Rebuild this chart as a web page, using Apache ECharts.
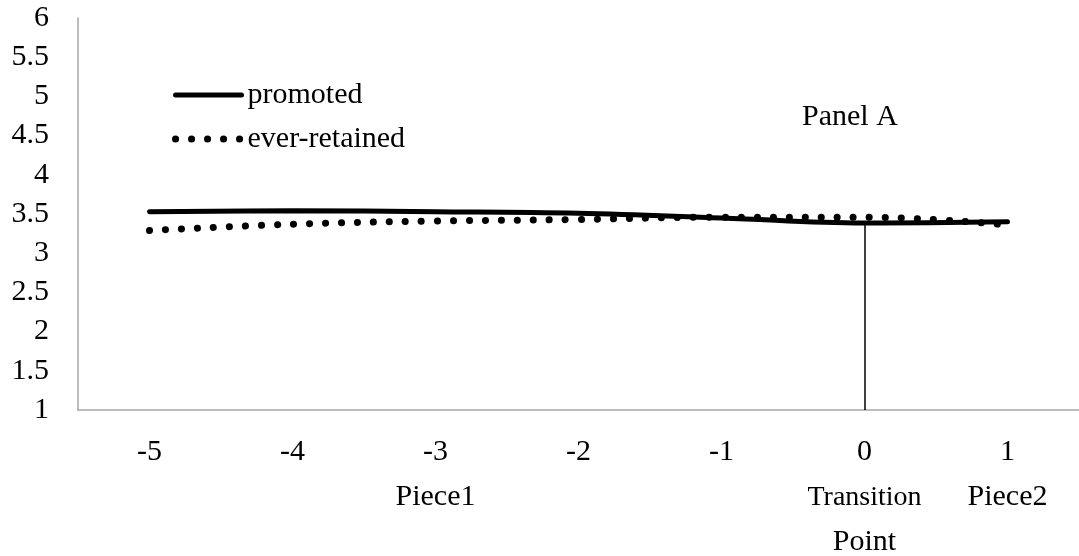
<!DOCTYPE html>
<html>
<head>
<meta charset="utf-8">
<script src="https://cdn.jsdelivr.net/npm/echarts@6/dist/echarts.min.js"></script>
<style>html,body{margin:0;padding:0;background:#fff}#c{width:1079px;height:556px}</style>
</head>
<body>
<div id="c"></div>
<script>
const categories = ['-5', '-4', '-3', '-2', '-1', '0', '1'];
const promoted = [3.53, 3.54, 3.53, 3.51, 3.45, 3.385, 3.40];
const everRetained = [3.29, 3.37, 3.41, 3.43, 3.46, 3.46, 3.36];
const pieceLabels = ['', '', '{p|Piece1}', '', '', '{t|Transition}\n{p|Point}', '{p|Piece2}'];
const yMin = 1, yMax = 6, yStep = 0.5;
const transitionIndex = 5;

const FONT = '"Liberation Serif", "Times New Roman", serif';
const chart = echarts.init(document.getElementById('c'));
chart.setOption({
  animation: false,
  backgroundColor: '#fff',
  textStyle: { fontFamily: FONT, color: '#000' },
  grid: { left: 78, right: 0, top: 18, bottom: 146, containLabel: false, outerBoundsMode: 'none' },
  title: {
    text: 'Panel A', left: 797, top: 97,
    textStyle: { fontFamily: FONT, fontSize: 30, fontWeight: 'normal', color: '#000' }
  },
  legend: {
    orient: 'vertical', left: 167, top: 75, itemWidth: 66, itemHeight: 30, itemGap: 14,
    textStyle: { fontFamily: FONT, fontSize: 30, color: '#000', padding: [0, 0, 0, 1] },
    itemStyle: { opacity: 0 },
    data: [
      { name: 'promoted', lineStyle: { width: 5 } },
      { name: 'ever-retained', lineStyle: { width: 7 } }
    ]
  },
  xAxis: {
    type: 'category', data: categories, boundaryGap: true,
    axisLine: { lineStyle: { color: '#a6a6a6', width: 1.5 } },
    axisTick: { show: false },
    axisLabel: {
      margin: 20, color: '#000', fontFamily: FONT, fontSize: 30, lineHeight: 45,
      interval: 0,
      rich: {
        p: { fontFamily: FONT, fontSize: 30, lineHeight: 45, color: '#000' },
        t: { fontFamily: FONT, fontSize: 28, lineHeight: 45, color: '#000' }
      },
      formatter: function (v, i) {
        const p = pieceLabels[i];
        return p ? v + '\n' + p : v;
      }
    },
    splitLine: { show: false }
  },
  yAxis: {
    type: 'value', min: yMin, max: yMax, interval: yStep,
    axisLine: { show: true, lineStyle: { color: '#a6a6a6', width: 1.5 } },
    axisTick: { show: false },
    splitLine: { show: false },
    axisLabel: { margin: 29, color: '#000', fontFamily: FONT, fontSize: 30 }
  },
  series: [
    {
      name: 'promoted', type: 'line', data: promoted, smooth: 0.4,
      showSymbol: false, symbol: 'none',
      lineStyle: { color: '#000', width: 5, cap: 'round' },
      itemStyle: { color: '#000' },
      markLine: {
        silent: true, symbol: 'none', label: { show: false },
        lineStyle: { color: '#000', width: 1.5, type: 'solid' },
        data: [[
          { coord: [categories[transitionIndex], promoted[transitionIndex]] },
          { coord: [categories[transitionIndex], yMin] }
        ]]
      },
      z: 3
    },
    {
      name: 'ever-retained', type: 'line', data: everRetained, smooth: 0.4,
      showSymbol: false, symbol: 'none',
      lineStyle: { color: '#000', width: 7, type: [0.1, 15.9], cap: 'round' },
      itemStyle: { color: '#000' },
      z: 4
    }
  ]
});
</script>
</body>
</html>
